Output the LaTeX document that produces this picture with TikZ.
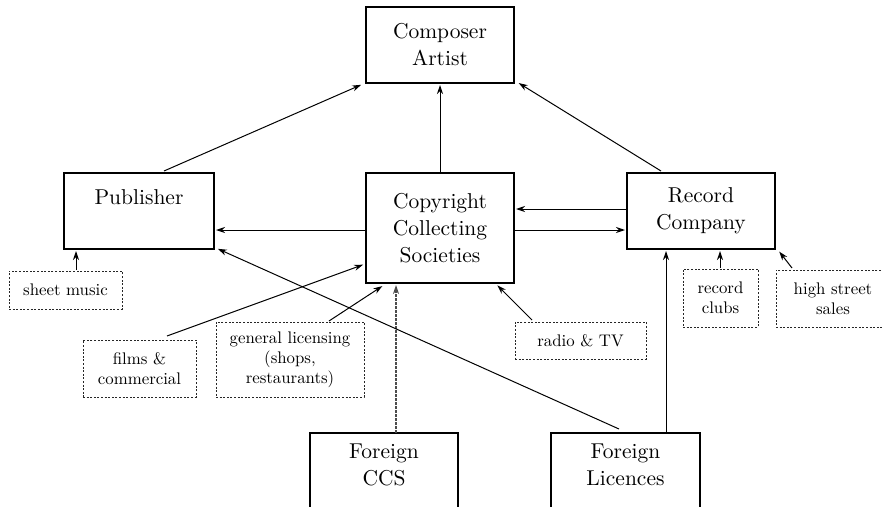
\documentclass[tikz,border=0pt]{standalone}
\usepackage{fontspec}
\setmainfont{lmroman10-regular.otf}
\usetikzlibrary{calc,arrows.meta}
\begin{document}
\begin{tikzpicture}[x=1pt,y=-1pt,
  mainbox/.style={draw, line width=1.2pt, inner sep=0pt, outer sep=0pt, align=center,
    font=\fontsize{21.5}{27}\selectfont},
  dotbox/.style={draw=black!85, line width=0.9pt, dash pattern=on 2pt off 1.6pt,
    inner sep=0pt, outer sep=0pt, align=center, font=\fontsize{16.8}{20}\selectfont},
  conn/.style={line width=1pt, -{Stealth[length=9pt,width=6pt]}, shorten >=2pt},
  dconn/.style={line width=1.4pt, black!70, dash pattern=on 3pt off 1pt,
    -{Stealth[length=9pt,width=6pt]}, shorten >=2pt}]
\useasboundingbox (0,0) rectangle (883,506);
\clip (0,0) rectangle (883,506);

% main boxes
\node[mainbox, minimum width=148pt, minimum height=76pt] (comp) at (440,45) {Composer\\Artist};
\node[mainbox, minimum width=148pt, minimum height=110pt] (ccs) at (440,228) {Copyright\\Collecting\\Societies};
\node[mainbox, minimum width=150pt, minimum height=76pt] (pub) at (139,211) {Publisher\\\mbox{}};
\node[mainbox, minimum width=148pt, minimum height=76pt] (rec) at (701,211) {Record\\Company};
\node[mainbox, minimum width=148pt, minimum height=91pt] (fccs) at (384,478.5) {Foreign\\CCS\\\mbox{}};
\node[mainbox, minimum width=149pt, minimum height=91pt] (flic) at (625.5,478.5) {Foreign\\Licences\\\mbox{}};

% dotted boxes
\node[dotbox, minimum width=113pt, minimum height=38pt] (sheet) at (65.5,290) {sheet music};
\node[dotbox, minimum width=113pt, minimum height=57pt] (films) at (139.5,368.5) {films \&\\commercial};
\node[dotbox, minimum width=148pt, minimum height=75pt] (gen) at (290,359.5) {general licensing\\(shops,\\restaurants)};
\node[dotbox, minimum width=131pt, minimum height=37pt] (radio) at (580.5,340.5) {radio \& TV};
\node[dotbox, minimum width=75pt, minimum height=58pt] (clubs) at (720.5,298) {record\\clubs};
\node[dotbox, minimum width=114pt, minimum height=57pt] (high) at (833,298.5) {high street\\sales};

% connectors to composer
\draw[conn] ($(pub.north)+(25,-2)$) -- ($(comp.south west)+(-3,1)$);
\draw[conn] (ccs.north) -- (comp.south);
\draw[conn] ($(rec.north)+(-40,-2)$) -- ($(comp.south east)+(3,-1)$);

% CCS <-> record, CCS -> publisher
\draw[conn] ($(rec.west)+(0,-2)$) -- ($(ccs.east)+(0,-19)$);
\draw[conn] ($(ccs.east)+(0,2)$) -- ($(rec.west)+(0,19)$);
\draw[conn] ($(ccs.west)+(0,2)$) -- ($(pub.east)+(0,19)$);

% inputs
\draw[conn] ($(sheet.north)+(10.5,-1)$) -- ($(pub.south west)+(12,0)$);
\draw[conn] ($(films.north)+(27.5,-4)$) -- ($(ccs.south west)+(-1,-19)$);
\draw[conn] ($(gen.north)+(39,-1)$) -- ($(ccs.south west)+(18,2)$);
\draw[dconn] ($(fccs.north)+(12,0)$) -- ($(ccs.south west)+(30,0)$);
\draw[conn] ($(radio.north)+(-48.5,-2)$) -- ($(ccs.south east)+(-18,1)$);
\draw[conn] ($(flic.north)+(-6.5,-4)$) -- ($(pub.south east)+(2,-1)$);
\draw[conn] ($(flic.north)+(40.5,-1)$) -- ($(rec.south west)+(39,0)$);
\draw[conn] ($(clubs.north)+(-0.5,-1)$) -- ($(rec.south west)+(93,0)$);
\draw[conn] ($(high.north)+(-41,-2)$) -- ($(rec.south east)+(3,1)$);
\end{tikzpicture}
\end{document}
